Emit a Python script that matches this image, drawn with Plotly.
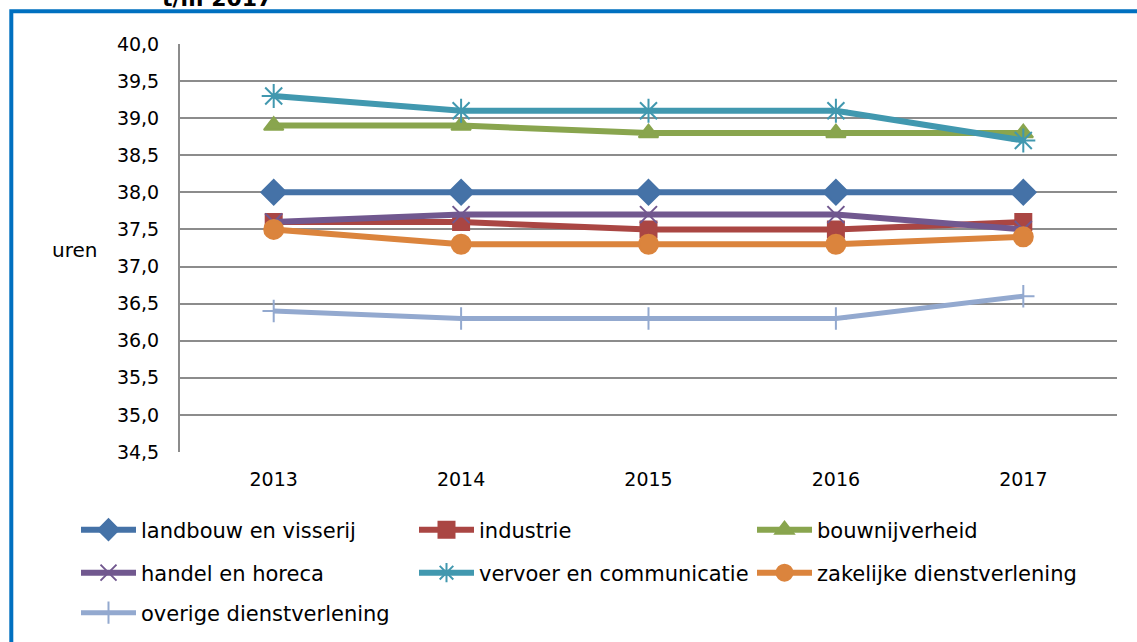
import plotly.graph_objects as go

years = ["2013", "2014", "2015", "2016", "2017"]
series_names = [
    "landbouw en visserij", "industrie", "bouwnijverheid",
    "handel en horeca", "vervoer en communicatie", "zakelijke dienstverlening",
    "overige dienstverlening",
]
landbouw = [38.0, 38.0, 38.0, 38.0, 38.0]
industrie = [37.6, 37.6, 37.5, 37.5, 37.6]
bouw = [38.9, 38.9, 38.8, 38.8, 38.8]
handel = [37.6, 37.7, 37.7, 37.7, 37.5]
vervoer = [39.3, 39.1, 39.1, 39.1, 38.7]
zakelijk = [37.5, 37.3, 37.3, 37.3, 37.4]
overig = [36.4, 36.3, 36.3, 36.3, 36.6]
y_ticks = [34.5, 35.0, 35.5, 36.0, 36.5, 37.0, 37.5, 38.0, 38.5, 39.0, 39.5, 40.0]
y_labels = [f"{v:.1f}".replace(".", ",") for v in y_ticks]

values = [landbouw, industrie, bouw, handel, vervoer, zakelijk, overig]
colors = ["#4572A7", "#AA4643", "#89A54E", "#71588F", "#4198AF", "#DB843D", "#93A9CF"]
symbols = ["diamond", "square", "triangle-up", "x-thin-open", "asterisk-open", "circle", "cross-thin-open"]
msizes = [19, 16, 17, 17, 20, 19, 16]
lwidths = [6, 6, 6, 6, 6, 6, 5]
legend_ids = ["legend", "legend", "legend", "legend2", "legend2", "legend2", "legend3"]

FONT = "DejaVu Sans"
H0, PH = 452, 408  # plot bottom pixel, plot height


def py(p):
    return (H0 - p) / PH


def px(p):
    return (p - 180) / 937


fig = go.Figure()
for name, vals, c, s, ms, lw, lg in zip(series_names, values, colors, symbols, msizes, lwidths, legend_ids):
    fig.add_trace(go.Scatter(
        x=years, y=vals, name=name, mode="lines+markers", legend=lg,
        line=dict(color=c, width=lw),
        marker=dict(symbol=s, size=ms, color=c, line=dict(color=c, width=2)),
    ))

leg_common = dict(orientation="h", xanchor="left", yanchor="middle",
                  entrywidth=268, entrywidthmode="pixels", itemwidth=55,
                  font=dict(family=FONT, size=21, color="#000000"), bgcolor="rgba(0,0,0,0)")

fig.update_layout(
    width=1137, height=642,
    margin=dict(l=180, r=20, t=44, b=190, autoexpand=False),
    paper_bgcolor="white", plot_bgcolor="white",
    font=dict(family=FONT, size=19, color="#000000"),
    showlegend=True,
    legend=dict(x=px(76), y=py(530), **leg_common),
    legend2=dict(x=px(76), y=py(573), **leg_common),
    legend3=dict(x=px(76), y=py(613), **leg_common),
    xaxis=dict(type="category", range=[-0.5, 4.5], showgrid=False, showline=False,
               zeroline=False, ticks="", ticklabelstandoff=14),
    yaxis=dict(range=[34.5, 40.0], tickvals=y_ticks, ticktext=y_labels,
               showgrid=True, gridcolor="#8C8C8C", gridwidth=2,
               showline=True, linecolor="#8C8C8C", linewidth=2,
               zeroline=False, ticks="", ticklabelstandoff=15),
    shapes=[dict(type="rect", xref="paper", yref="paper",
                 x0=px(11.3), x1=1.2, y0=-1.0, y1=py(11.3),
                 line=dict(color="#0070C0", width=4), fillcolor="rgba(0,0,0,0)", layer="above")],
    annotations=[
        dict(text="uren", xref="paper", yref="paper", x=px(50), y=py(250),
             xanchor="left", yanchor="middle", showarrow=False, font=dict(family=FONT, size=20)),
        dict(text="<b>t/m 2017</b>", xref="paper", yref="paper", x=px(217),
             y=py(13), xanchor="center", yanchor="bottom", showarrow=False,
             font=dict(family=FONT, size=22)),
    ],
)
fig.write_html("out.html", config={"displayModeBar": False},
               post_script="document.body.style.margin='0';")
